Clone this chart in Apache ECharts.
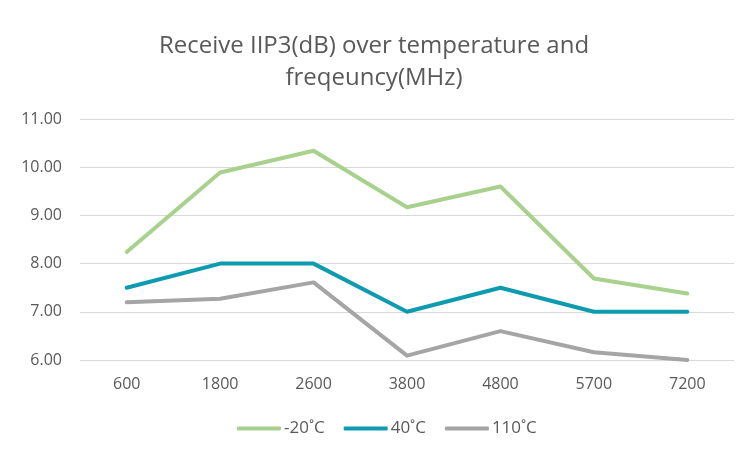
<!DOCTYPE html>
<html>
<head>
<meta charset="utf-8">
<script src="https://cdn.jsdelivr.net/npm/echarts@6/dist/echarts.min.js"></script>
<style>
  html, body { margin: 0; padding: 0; background: #ffffff; }
  #chart { width: 748px; height: 455px; }
</style>
</head>
<body>
<div id="chart"></div>
<script>
// Frequency points (MHz)
const categories = ['600', '1800', '2600', '3800', '4800', '5700', '7200'];

// Receive IIP3 (dB) per temperature
const seriesNames = ['-20˚C', '40˚C', '110˚C'];
const iip3Cold = [8.24, 9.89, 10.34, 9.17, 9.60, 7.69, 7.38];
const iip3Room = [7.50, 8.00, 8.00, 7.00, 7.50, 7.00, 7.00];
const iip3Hot  = [7.20, 7.27, 7.61, 6.09, 6.60, 6.16, 6.00];

const colors = ['#a9d18e', '#0e9bb0', '#a5a5a5'];
const textColor = '#595959';
const fontFamily = '"Open Sans", "Liberation Sans", sans-serif';

const chart = echarts.init(document.getElementById('chart'));

function lineSeries(name, data, color) {
  return {
    name: name,
    type: 'line',
    data: data,
    symbol: 'none',
    lineStyle: { width: 4, color: color, cap: 'round', join: 'round' },
    itemStyle: { color: color },
    animation: false
  };
}

chart.setOption({
  backgroundColor: '#ffffff',
  title: {
    text: 'Receive IIP3(dB) over temperature and\nfreqeuncy(MHz)',
    left: 'center',
    top: 25,
    textStyle: {
      color: textColor,
      fontFamily: fontFamily,
      fontWeight: 'normal',
      fontSize: 24,
      lineHeight: 32
    }
  },
  legend: {
    top: 415,
    left: 232,
    itemWidth: 44,
    itemHeight: 4,
    itemGap: 19,
    icon: 'roundRect',
    textStyle: { color: textColor, fontFamily: fontFamily, fontSize: 17, padding: [0, 0, 0, -2] },
    data: seriesNames
  },
  grid: { left: 80, right: 14, top: 119, bottom: 95 },
  xAxis: {
    type: 'category',
    data: categories,
    boundaryGap: true,
    axisLine: { show: false },
    axisTick: { show: false },
    axisLabel: { color: textColor, fontFamily: fontFamily, fontSize: 16, margin: 16 }
  },
  yAxis: {
    type: 'value',
    min: 6,
    max: 11,
    interval: 1,
    axisLine: { show: false },
    axisTick: { show: false },
    splitLine: { lineStyle: { color: '#d9d9d9', width: 1 } },
    axisLabel: {
      color: textColor,
      fontFamily: fontFamily,
      fontSize: 16,
      margin: 18,
      formatter: v => v.toFixed(2)
    }
  },
  series: [
    lineSeries(seriesNames[0], iip3Cold, colors[0]),
    lineSeries(seriesNames[1], iip3Room, colors[1]),
    lineSeries(seriesNames[2], iip3Hot, colors[2])
  ]
});
</script>
</body>
</html>
